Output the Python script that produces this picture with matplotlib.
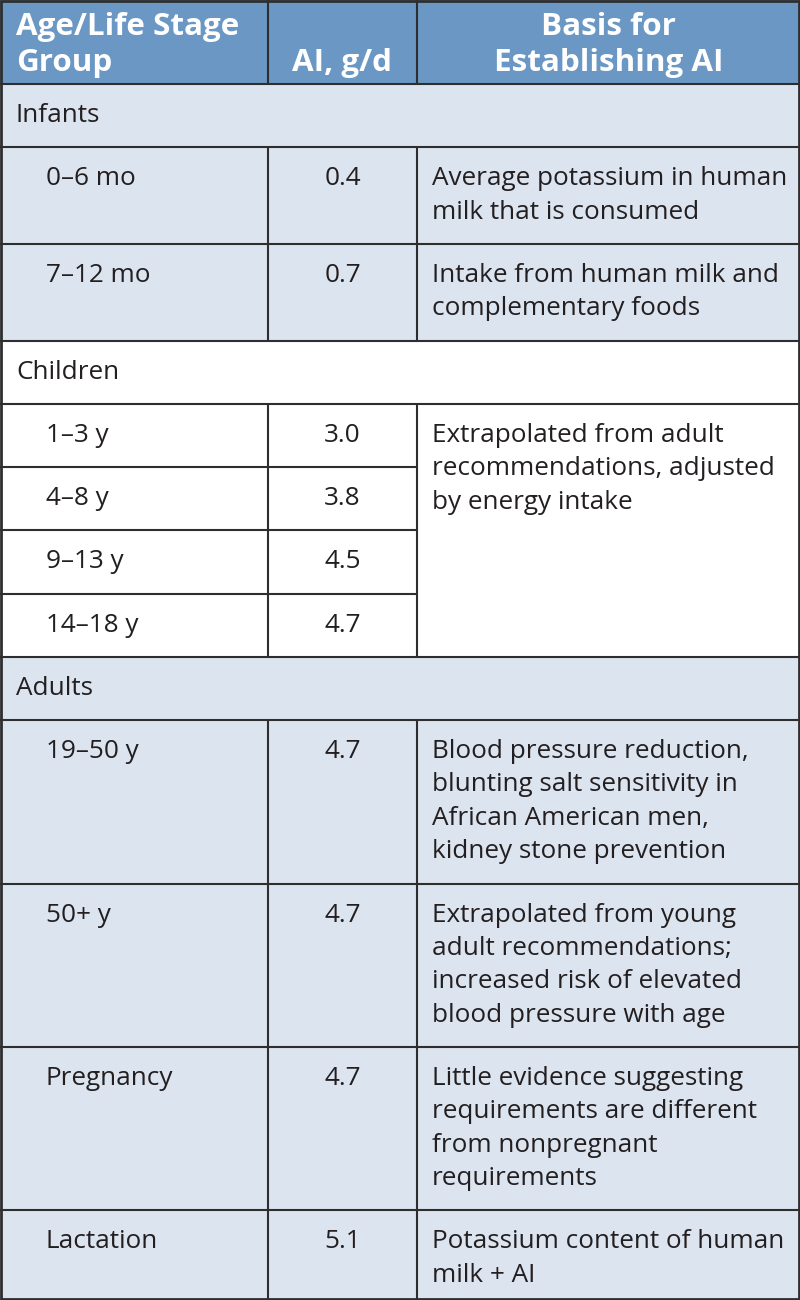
import matplotlib
matplotlib.use("Agg")
from matplotlib import pyplot as plt
from matplotlib.patches import Rectangle

# data
headers = ["Age/Life Stage\nGroup", "AI, g/d", "Basis for\nEstablishing AI"]
sections = ["Infants", "Children", "Adults"]
groups = ["0–6 mo", "7–12 mo", "1–3 y", "4–8 y", "9–13 y", "14–18 y",
          "19–50 y", "50+ y", "Pregnancy", "Lactation"]
group_section = [0, 0, 1, 1, 1, 1, 2, 2, 2, 2]
ai_values = [0.4, 0.7, 3.0, 3.8, 4.5, 4.7, 4.7, 4.7, 4.7, 5.1]
basis = [
    "Average potassium in human\nmilk that is consumed",
    "Intake from human milk and\ncomplementary foods",
    "Extrapolated from adult\nrecommendations, adjusted\nby energy intake",
    None, None, None,
    "Blood pressure reduction,\nblunting salt sensitivity in\nAfrican American men,\nkidney stone prevention",
    "Extrapolated from young\nadult recommendations;\nincreased risk of elevated\nblood pressure with age",
    "Little evidence suggesting\nrequirements are different\nfrom nonpregnant\nrequirements",
    "Potassium content of human\nmilk + AI",
]
basis_span = [1, 1, 4, 0, 0, 0, 1, 1, 1, 1]

# style
HEAD = "#6a97c3"
LIGHT = "#dce4f0"
WHITE = "#ffffff"
LINE = "#2e2e2e"
TXT = "#231f20"
section_fill = [LIGHT, WHITE, LIGHT]
W, H = 800, 1300
col_x = [0, 268, 417, 800]
header_h = 84
line_px = 33.4
pad = 29.85
base_off = 38
fs = 18.8
hfs = 22.6

plt.rcParams["font.family"] = ["Open Sans", "DejaVu Sans"]
fig = plt.figure(figsize=(W / 100, H / 100), dpi=100)
ax = fig.add_axes([0, 0, 1, 1])
ax.set_xlim(0, W)
ax.set_ylim(H, 0)
ax.axis("off")


def nlines(s):
    return s.count("\n") + 1


def row_h(n):
    return pad + line_px * n


def put(x, y0, s, step, ha="left", **kw):
    # one text per line, baselines step px apart
    for k, part in enumerate(s.split("\n")):
        ax.text(x, y0 + k * step, part, ha=ha, va="baseline", **kw)


lw = 1.5

# header
ax.add_patch(Rectangle((0, 0), W, header_h, facecolor=HEAD, edgecolor="none"))
hkw = dict(color="white", fontsize=hfs, fontweight="bold")
put(16, 35, headers[0], 35.5, **hkw)
put((col_x[1] + col_x[2]) / 2, 70.5, headers[1], 35.5, ha="center", **hkw)
put((col_x[2] + col_x[3]) / 2, 35, headers[2], 35.5, ha="center", **hkw)
ax.vlines(col_x[1:3], 0, header_h, color=LINE, lw=lw)

tkw = dict(color=TXT, fontsize=fs)
y = header_h
ax.hlines(y, 0, W, color=LINE, lw=lw)
cur_section = -1
for i, g in enumerate(groups):
    s = group_section[i]
    if s != cur_section:
        cur_section = s
        h = row_h(1)
        ax.add_patch(Rectangle((0, y), W, h, facecolor=section_fill[s], edgecolor="none"))
        put(16, y + base_off, sections[s], line_px, **tkw)
        y += h
        ax.hlines(y, 0, W, color=LINE, lw=lw)
    n = 1 if basis[i] is None or basis_span[i] > 1 else nlines(basis[i])
    h = row_h(n)
    ax.add_patch(Rectangle((0, y), W, h, facecolor=section_fill[s], edgecolor="none"))
    put(46, y + base_off, g, line_px, **tkw)
    put((col_x[1] + col_x[2]) / 2, y + base_off, f"{ai_values[i]:.1f}", line_px,
        ha="center", **tkw)
    if basis[i] is not None:
        put(col_x[2] + 15, y + base_off, basis[i], line_px, **tkw)
    ax.vlines(col_x[1:3], y, y + h, color=LINE, lw=lw)
    y += h
    # line below row: stop at the basis column inside a merged cell
    in_span = any(a <= i < a + basis_span[a] - 1 for a in range(len(groups)) if basis_span[a] > 1)
    ax.hlines(y, 0, col_x[2] if in_span else W, color=LINE, lw=lw)

# outer frame
ax.add_patch(Rectangle((0.8, 0.8), W - 1.6, H - 1.6, facecolor="none", edgecolor=LINE, lw=2))

fig.savefig("out.png", dpi=100)
